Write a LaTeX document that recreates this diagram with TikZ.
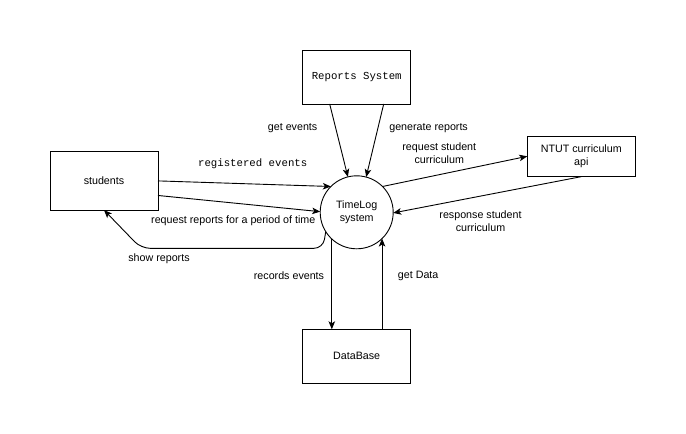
\documentclass[tikz,border=0pt]{standalone}
\usepackage{fontspec}
\setmainfont{Liberation Sans}
\newfontfamily\monofont{Liberation Mono}
\usetikzlibrary{arrows.meta,calc}
\begin{document}
\begin{tikzpicture}[x=1pt,y=-1pt,
  every node/.style={font=\fontsize{10.7}{13}\selectfont, inner sep=0pt, outer sep=0pt},
  boxnode/.style={draw, line width=0.9pt, minimum width=108pt, anchor=center},
  circnode/.style={draw, circle, line width=0.9pt, minimum size=73pt, align=center},
  lbl/.style={align=center},
  mono/.style={font=\fontsize{10.7}{13}\monofont},
  flow/.style={line width=0.9pt, -{Stealth[length=8pt,width=6.5pt,inset=2pt]}},
]
\useasboundingbox[fill=white] (0,0) rectangle (686,434);

\node[boxnode, minimum height=58.3pt] (st) at (104,180.9) {students};
\node[boxnode, minimum height=54pt, mono] (rep) at (356.7,77) {Reports System};
\node[boxnode, minimum height=40.7pt, align=center] (ntut) at (581.3,156.3) {NTUT curriculum\\api};
\node[boxnode, minimum height=54pt] (db) at (356.7,356.3) {DataBase};
\node[circnode] (c) at (356.7,212.3) {TimeLog\\system};

% connectors
\draw[flow] ($(rep.south west)!0.25!(rep.south east)$) -- (c.104.8);
\draw[flow] ($(rep.south west)!0.75!(rep.south east)$) -- (c.75);
\draw[flow] (c.45) -- (ntut.west);
\draw[flow] (ntut.south) -- (c.-1);
\draw[flow] (st.east) -- (c.135.4);
\draw[flow] ($(st.north east)!0.75!(st.south east)$) -- (c.179);
\coordinate (sr) at (323,248.3);
\coordinate (sl) at (141,248.3);
\draw[flow, rounded corners=9pt] (c.-148) -- (sr) -- (sl) -- (st.south);
\draw[flow] (c.-133) -- (c.-133 |- db.north);
\draw[flow] (c.-46 |- db.north) -- (c.-46);

% labels
\node[lbl] (l1) at (292.6,128.3) {get events};
\node[lbl] (l2) at (428.6,128.3) {generate reports};
\node[lbl] (l3) at (439.3,153) {request student\\curriculum};
\node[lbl] (l4) at (480.5,221.3) {response student\\curriculum};
\node[mono] (l5) at (252.7,163.3) {registered events};
\node[lbl] (l6) at (233.3,221) {request reports for a period of time};
\node[lbl] (l7) at (159,258.3) {show reports};
\node[lbl] (l8) at (289,276) {records events};
\node[lbl] (l9) at (418.2,276) {get Data};
\end{tikzpicture}
\end{document}
